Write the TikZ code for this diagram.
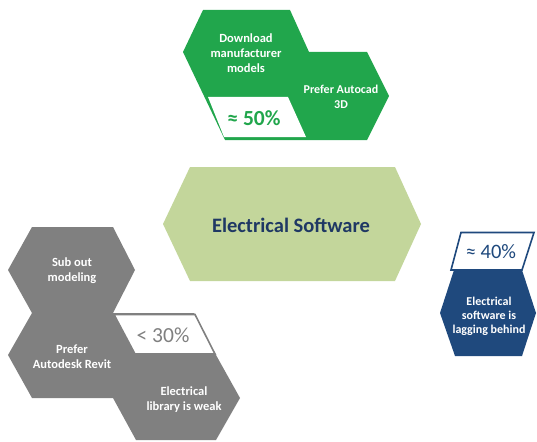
\documentclass[tikz,border=0pt]{standalone}
\usepackage{fontspec}
\setmainfont{Carlito}
\definecolor{leafgreen}{RGB}{33,166,76}
\definecolor{olive}{RGB}{195,214,155}
\definecolor{navy}{RGB}{31,56,100}
\definecolor{slate}{RGB}{128,128,128}
\definecolor{deepblue}{RGB}{31,73,125}
\begin{document}
\begin{tikzpicture}[x=1pt,y=-1pt,
  lbl/.style={font=\bfseries\fontsize{12.5}{15}\selectfont, text=white, align=center, inner sep=0pt},
  pct/.style={font=\fontsize{21.5}{24}\selectfont, inner sep=0pt},
  tag/.style={fill=white, line width=1.6pt, line join=miter}]
\useasboundingbox (0,0) rectangle (537,441);

% green cluster: two hexagons with a percentage tag
\fill[leafgreen] (203,10) -- (290,10) -- (309,52) -- (367,52) -- (389,96)
  -- (367,140) -- (225,140) -- (183,52) -- cycle;
\fill[white] (208,97) -- (288,97) -- (306,137) -- (224,137) -- cycle;
\node[lbl] (dl) at (246,53) {Download\\manufacturer\\models};
\node[lbl, font=\bfseries\fontsize{12}{15}\selectfont] (acad) at (341,97) {Prefer Autocad\\3D};
\node[pct, font=\bfseries\fontsize{21.5}{24}\selectfont, text=leafgreen] (p50) at (254,118) {≈ 50\%};

% central hexagon
\fill[olive] (190,167) -- (395,167) -- (421,224) -- (395,281) -- (190,281)
  -- (163,224) -- cycle;
\node[font=\bfseries\fontsize{20.5}{24}\selectfont, text=navy, inner sep=0pt] (core) at (291,225) {Electrical Software};

% grey cluster: three hexagons with a percentage tag
\fill[slate] (32,227) -- (113,227) -- (135,270) -- (113,313) -- (194,313)
  -- (216,355) -- (240,398) -- (216,440) -- (136,440) -- (113,398)
  -- (32,398) -- (8,355) -- (32,313) -- (8,270) -- cycle;
\filldraw[tag, draw=slate] (114,314.5) -- (195,314.5) -- (215,354) -- (135,354) -- cycle;
\node[lbl] (sub) at (72,271) {Sub out\\modeling};
\node[lbl] (revit) at (72,357) {Prefer\\Autodesk Revit};
\node[lbl] (lib) at (184,400) {Electrical\\library is weak};
\node[pct, text=slate] (p30) at (163,335) {< 30\%};

% blue hexagon with a percentage tag
\fill[deepblue] (440,313) -- (454,270) -- (522,270) -- (536,313) -- (522,356)
  -- (455,356) -- cycle;
\filldraw[tag, draw=deepblue] (461,232.5) -- (534,232.5) -- (522,270) -- (451,270) -- cycle;
\node[lbl, font=\bfseries\fontsize{12}{14}\selectfont] (lag) at (489,316) {Electrical\\software is\\lagging behind};
\node[pct, font=\fontsize{20.5}{24}\selectfont, text=deepblue] (p40) at (491,252) {≈ 40\%};
\end{tikzpicture}
\end{document}
